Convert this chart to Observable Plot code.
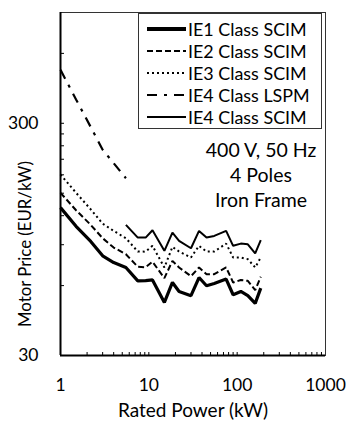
<!DOCTYPE html>
<html><head><meta charset="utf-8">
<script src="https://cdn.jsdelivr.net/npm/d3@7"></script>
<script src="https://cdn.jsdelivr.net/npm/@observablehq/plot@0.6"></script>
<style>
body{margin:0;background:#fff;}
#wrap{position:relative;width:348px;height:422px;font-family:Lato,"Open Sans",sans-serif;color:#000;}
#legend{position:absolute;left:138px;top:13px;width:184px;height:116px;border:1px solid #333;box-sizing:border-box;background:#fff;padding-top:4px;}
.row{height:22px;display:flex;align-items:center;font-size:17.9px;white-space:nowrap;}
.row svg{margin-left:8px;margin-right:2px;}
#note{position:absolute;left:195px;width:132px;top:137px;text-align:center;font-size:19.5px;line-height:25px;}
</style></head>
<body><div id="wrap"><div id="chart"></div><div id="legend"></div><div id="note">400 V, 50 Hz<br>4 Poles<br>Iron Frame</div></div>
<script>
// Data (rated power in kW, price in EUR/kW)
const ratings = [1, 1.5, 2.2, 3, 4, 5.5, 7.5, 9.2, 11, 15, 18.5, 22, 30, 37, 45, 55, 75, 90, 110, 132, 160, 185];
const ie1Scim = [130, 108, 93, 80.6, 75.4, 71.8, 62.9, 63, 63.5, 50.8, 61.9, 56.6, 54.3, 65, 59.9, 61.3, 64, 54.8, 56.6, 54.3, 50.3, 58.5];
const ie2Scim = [150.6, 126.7, 109.5, 96, 87.5, 81.9, 72.3, 72, 76, 64.6, 76.7, 71.8, 65.9, 71.8, 67.2, 67.2, 71.8, 61.9, 63.4, 62.9, 57.4, 65.5];
const ie3Scim = [180.6, 150.6, 127.8, 110.9, 103.2, 96, 84.1, 84, 89, 71.8, 88.1, 84.1, 79.3, 89, 84.1, 84.1, 91, 79.3, 79.3, 78, 71.8, 79.3];
const lspmRatings = [1, 1.5, 2.2, 3, 4, 5.5];
const ie4Lspm = [510, 380, 289, 231, 202, 174];
const scimIe4Ratings = [5.5, 7.5, 9.2, 11, 15, 18.5, 22, 30, 37, 45, 55, 75, 90, 110, 132, 160, 185];
const ie4Scim = [109.5, 96.6, 96.6, 103.9, 84.7, 101.5, 93.5, 86.9, 103.2, 96.6, 98.2, 103.2, 89, 91, 90.4, 82.5, 94.1];
const seriesNames = ["IE1 Class SCIM", "IE2 Class SCIM", "IE3 Class SCIM", "IE4 Class LSPM", "IE4 Class SCIM"];
const xTickLabels = [1, 10, 100, 1000];
const yTickLabels = [30, 300];
const xMinorTicks = [2,3,4,5,6,7,8,9,10,20,30,40,50,60,70,80,90,100,200,300,400,500,600,700,800,900];
const yMinorTicks = [60,90,120,150,180,210,240,270,300,600];

const rows = (xs, ys) => xs.map((x, i) => ({kW: x, price: ys[i]}));
const styles = [
  {strokeWidth: 3.2, dash: null},
  {strokeWidth: 2, dash: "6,3"},
  {strokeWidth: 2, dash: "2,3"},
  {strokeWidth: 2.2, dash: "10,7,3,7"},
  {strokeWidth: 2, dash: null}
];
const seriesData = [
  rows(ratings, ie1Scim),
  rows(ratings, ie2Scim),
  rows(ratings, ie3Scim),
  rows(lspmRatings, ie4Lspm),
  rows(scimIe4Ratings, ie4Scim)
];

const lineMarks = seriesData.map((d, i) => Plot.line(d, {
  x: "kW", y: "price", stroke: "#000", strokeWidth: styles[i].strokeWidth,
  strokeDasharray: styles[i].dash, strokeLinejoin: "miter", strokeLinecap: "butt"
}));

const chart = Plot.plot({
  width: 348, height: 422,
  marginLeft: 60, marginRight: 23, marginTop: 12, marginBottom: 67,
  x: {type: "log", domain: [1, 1000], axis: null},
  y: {type: "log", domain: [30, 900], axis: null},
  style: {fontFamily: "Lato, 'Open Sans', sans-serif", fontSize: "17px", color: "#000", background: "#fff"},
  marks: [
    Plot.frame({stroke: "#333", strokeWidth: 1}),
    Plot.axisX(xMinorTicks, {anchor: "bottom", tickSize: -3, fill: "none", label: null, stroke: "#000"}),
    Plot.axisX(xTickLabels, {anchor: "bottom", tickSize: 0, tickPadding: 23, tickFormat: d => String(d), label: null, fontSize: 17.5}),
    Plot.axisY(yMinorTicks, {anchor: "left", tickSize: -4, fill: "none", label: null, stroke: "#000"}),
    Plot.axisY(yTickLabels, {anchor: "left", tickSize: 0, tickPadding: 22, tickFormat: d => String(d), label: null, fontSize: 17.5}),
    Plot.ruleX([1], {stroke: "#000", strokeWidth: 2}),
    Plot.ruleY([30], {stroke: "#000", strokeWidth: 2}),
    ...lineMarks,
    Plot.text(["Rated Power (kW)"], {frameAnchor: "bottom", lineAnchor: "middle", dy: 55, text: d => d, fontSize: 19, fill: "#000"}),
    Plot.text(["Motor Price (EUR/kW)"], {frameAnchor: "left", rotate: -90, textAnchor: "middle", dx: -35, dy: 60, text: d => d, fontSize: 16.8, fill: "#000"})
  ]
});
document.getElementById("chart").appendChild(chart);

// Legend
const legend = document.getElementById("legend");
seriesNames.forEach((name, i) => {
  const row = document.createElement("div");
  row.className = "row";
  const sw = i === 0 ? 4 : styles[i].strokeWidth;
  row.innerHTML = `<svg width="39" height="8"><line x1="0" x2="39" y1="4" y2="4" stroke="#000" stroke-width="${sw}" ${styles[i].dash ? `stroke-dasharray="${styles[i].dash}"` : ""}/></svg><span>${name}</span>`;
  legend.appendChild(row);
});
</script>
</body></html>
